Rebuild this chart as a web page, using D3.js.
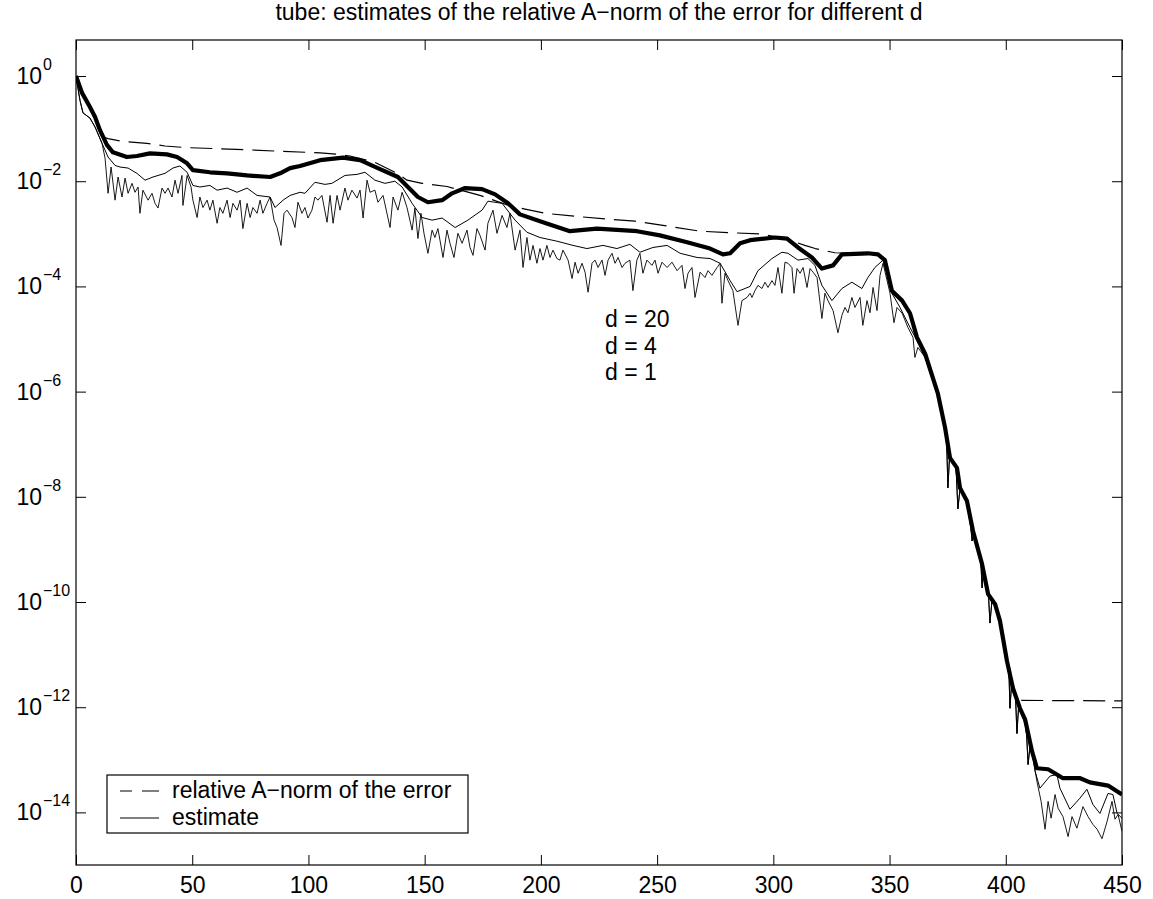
<!DOCTYPE html>
<html>
<head>
<meta charset="utf-8">
<script src="https://cdn.jsdelivr.net/npm/d3@7"></script>
<style>
  body { margin: 0; background: #fff; }
  svg { display: block; font-family: "Liberation Sans", Arial, Helvetica, sans-serif; }
</style>
</head>
<body>
<svg id="chart" width="1153" height="899"></svg>
<script>
// points are [iteration, log10(value)]
var errorPts = [[0,0],[2.6,-0.32],[6,-0.59],[8.2,-0.78],[10.3,-1.03],[11.6,-1.16],[13.8,-1.19],[19.8,-1.24],[30.5,-1.28],[38.3,-1.33],[46.9,-1.36],[59.8,-1.38],[72.7,-1.40],[87.8,-1.43],[105,-1.46],[113,-1.49],[117.9,-1.52],[128.6,-1.64],[138.1,-1.85],[142.4,-1.98],[148.9,-2.04],[159.6,-2.10],[173.8,-2.27],[187.6,-2.48],[193.2,-2.53],[201.8,-2.61],[215.5,-2.67],[228.4,-2.72],[240.5,-2.76],[252.5,-2.84],[268.5,-2.95],[281.4,-2.98],[294.3,-3.00],[305,-3.09],[313.6,-3.22],[318,-3.28],[326.5,-3.36],[333,-3.37],[340.7,-3.37],[345,-3.39],[348,-3.50],[351,-4.08],[355.4,-4.27],[358.8,-4.51],[361.8,-4.97],[365.3,-5.28],[370.8,-6.04],[373.9,-6.69],[376,-7.26],[379,-7.45],[380.3,-7.83],[383.3,-8.08],[385.9,-8.65],[389.8,-9.28],[392.4,-9.85],[395.4,-10.04],[397.5,-10.36],[400.5,-11.12],[402.5,-11.5],[404.5,-11.8],[406.5,-11.87],[450,-11.88]];

var estD20 = [[0,0],[2.6,-0.32],[6,-0.59],[8.2,-0.78],[10.3,-1.03],[13.3,-1.31],[15.9,-1.45],[21.9,-1.54],[26.2,-1.52],[31.8,-1.47],[39.1,-1.49],[43.5,-1.54],[47.8,-1.66],[50.3,-1.79],[57.6,-1.83],[65,-1.85],[73.6,-1.89],[83.5,-1.92],[87.8,-1.85],[92.1,-1.75],[96.4,-1.71],[105,-1.60],[114.9,-1.55],[122.2,-1.60],[130.8,-1.77],[138.5,-1.92],[142.8,-2.11],[147.1,-2.30],[151.4,-2.40],[157.5,-2.36],[161.8,-2.23],[167.4,-2.13],[174.7,-2.15],[180.3,-2.25],[185.9,-2.42],[191,-2.63],[200.9,-2.78],[212.5,-2.95],[224.1,-2.90],[241.4,-2.95],[251.2,-3.03],[262.9,-3.16],[272.8,-3.28],[278.3,-3.39],[281.4,-3.37],[285.7,-3.18],[290,-3.12],[300.7,-3.07],[305.9,-3.09],[310.6,-3.26],[316.6,-3.45],[320.9,-3.66],[325.7,-3.60],[329.5,-3.39],[340.7,-3.37],[345,-3.39],[348,-3.50],[351,-4.08],[355.4,-4.27],[358.8,-4.51],[361.8,-4.97],[365.3,-5.28],[370.8,-6.04],[373.9,-6.69],[376,-7.26],[379,-7.45],[380.3,-7.83],[383.3,-8.08],[385.9,-8.65],[389.8,-9.28],[392.4,-9.85],[395.4,-10.04],[397.5,-10.36],[400.5,-11.12],[403.1,-11.64],[406.1,-12.02],[408.3,-12.23],[411.3,-12.84],[413.4,-13.16],[418.2,-13.18],[422,-13.28],[424.6,-13.35],[432,-13.35],[436.2,-13.43],[444,-13.49],[450,-13.66]];

// first iterations, shared by d = 4 and d = 1
var thinStart = [[0,0],[1.7,-0.46],[3.0,-0.70],[6.0,-0.80],[8.2,-0.97],[11.2,-1.28]];

// steep drop, the thin curves lie on top of each other here
var thinDrop = [[365.3,-5.35],[368.3,-5.72],[370.8,-6.08],[373.9,-6.72],[374.6,-7.0],[375.1,-7.83],[375.8,-7.25],[378.6,-7.45],[379.4,-8.23],[380.3,-7.85],[383.3,-8.12],[385,-8.6],[385.5,-8.84],[386.2,-8.7],[389.3,-9.25],[389.8,-9.73],[390.5,-9.35],[392.6,-9.9],[393.2,-10.4],[394,-10.0],[395.4,-10.08],[397.5,-10.4],[400.5,-11.15],[401.4,-11.4],[401.8,-12.02],[402.5,-11.55],[404.2,-11.8],[404.8,-12.5],[405.5,-12.0],[408.3,-12.3],[409,-12.55],[409.6,-13.09],[410.5,-12.7],[411.5,-12.9]];

var estD4 = [[13.8,-1.54],[16.8,-1.70],[18.9,-1.73],[22.4,-1.75],[26.2,-1.85],[29.7,-1.98],[33.1,-1.92],[38.3,-1.85],[41.7,-1.75],[44.7,-1.71],[47.8,-1.83],[50.3,-2.08],[53.3,-2.11],[57.6,-2.08],[60.7,-2.17],[65,-2.13],[69.3,-2.21],[73.6,-2.13],[77.9,-2.27],[83.5,-2.30],[85.6,-2.50],[89.1,-2.36],[92.1,-2.27],[96.4,-2.21],[98.5,-2.23],[102.8,-2.02],[107.1,-2.06],[110.1,-2.04],[115.7,-1.89],[120.9,-1.87],[124.3,-1.83],[128.6,-1.98],[132.9,-2.04],[137.2,-2.00],[140.3,-2.11],[144.6,-2.42],[148.9,-2.69],[153.2,-2.74],[157.5,-2.70],[163.1,-2.88],[168.6,-2.74],[174.7,-2.55],[177.2,-2.38],[183.3,-2.42],[188.9,-2.74],[194,-2.97],[199.6,-3.07],[206.9,-3.14],[213.8,-3.22],[219.8,-3.28],[226.7,-3.22],[232.7,-3.28],[238.3,-3.20],[242.6,-3.35],[248.2,-3.26],[254.3,-3.22],[259.9,-3.37],[267.2,-3.45],[272.8,-3.47],[277.1,-3.56],[281.4,-3.89],[284.4,-4.10],[290,-4.00],[293.4,-3.70],[299.4,-3.47],[303.7,-3.35],[306.3,-3.37],[310.6,-3.50],[314.9,-3.47],[317.9,-3.60],[320.9,-3.98],[325.2,-4.27],[329.5,-4.04],[333.8,-3.92],[338.1,-4.04],[340.7,-3.83],[343.7,-3.64],[347.2,-3.50],[351,-4.13],[354.5,-4.40],[358.8,-4.78],[361.8,-5.03]];
var tailD4 = [[412.6,-13.22],[414.7,-13.54],[419,-13.31],[422,-13.28],[423.3,-13.54],[427.6,-13.94],[431.9,-13.73],[434.9,-13.56],[437.5,-13.85],[440.5,-14.02],[444,-13.64],[446.1,-13.66],[447.9,-14.02],[450,-14.11]];

var estD1 = [[12.5,-1.56],[13.8,-2.23],[15.1,-1.73],[16.8,-2.36],[18.1,-1.92],[19.8,-2.30],[21.1,-1.94],[22.4,-2.23],[24.1,-2.04],[25.4,-2.21],[26.7,-2.11],[27.5,-2.61],[28.8,-2.17],[31.0,-2.36],[32.7,-2.23],[34.0,-2.42],[35.3,-2.51],[37.0,-2.13],[38.3,-2.23],[39.6,-2.13],[41.3,-2.30],[42.6,-1.98],[43.9,-2.23],[45.6,-1.89],[46.0,-2.46],[47.8,-1.89],[49.5,-2.11],[50.3,-2.36],[52.1,-2.69],[53.3,-2.30],[54.6,-2.50],[56.4,-2.36],[57.6,-2.55],[58.9,-2.36],[60.7,-2.80],[61.9,-2.50],[63.2,-2.61],[65.0,-2.36],[66.3,-2.69],[67.5,-2.42],[69.3,-2.55],[70.6,-2.36],[71.8,-2.90],[73.6,-2.42],[74.9,-2.69],[76.1,-2.50],[77.9,-2.61],[79.2,-2.36],[80.4,-2.61],[82.2,-2.42],[83.5,-2.30],[85.2,-2.74],[86.5,-2.88],[88.2,-3.22],[89.5,-2.61],[90.8,-2.55],[92.9,-2.69],[94.2,-2.88],[95.5,-2.40],[97.2,-2.61],[98.5,-2.50],[99.8,-2.70],[101.5,-2.55],[102.8,-2.30],[104.1,-2.36],[105.8,-2.27],[108.0,-2.78],[109.3,-2.27],[110.6,-2.80],[112.3,-2.27],[113.6,-2.55],[115.7,-2.13],[117.0,-2.36],[118.7,-2.17],[120.9,-2.32],[122.2,-2.17],[123.5,-2.70],[125.2,-1.98],[126.5,-2.21],[128.6,-2.17],[129.9,-2.40],[132.1,-2.27],[135.1,-2.88],[136.4,-2.30],[138.5,-2.55],[140.3,-2.21],[142.4,-2.50],[144.6,-2.93],[145.8,-2.51],[147.1,-3.09],[148.4,-2.61],[149.7,-2.99],[151.4,-3.37],[153.2,-2.93],[154.4,-3.07],[155.7,-2.90],[157.9,-3.45],[159.6,-2.93],[160.9,-3.18],[162.6,-3.45],[164.3,-2.99],[166.1,-3.18],[168.2,-2.93],[169.5,-3.26],[170.8,-3.41],[172.5,-2.90],[173.8,-3.03],[176.0,-3.31],[177.2,-2.80],[179.4,-2.55],[181.1,-2.99],[183.3,-2.65],[185.4,-2.88],[186.7,-2.61],[188.9,-3.31],[191.0,-2.93],[192.3,-3.64],[194.0,-3.07],[195.3,-3.50],[196.6,-3.22],[198.3,-3.56],[199.6,-3.28],[200.9,-3.50],[202.6,-3.22],[203.9,-3.45],[205.2,-3.31],[206.9,-3.47],[208.2,-3.50],[209.5,-3.31],[211.7,-3.50],[213.4,-3.85],[214.7,-3.54],[216.0,-3.75],[217.7,-3.56],[219.0,-3.73],[220.3,-4.11],[222.0,-3.56],[223.3,-3.50],[224.6,-3.64],[226.3,-3.50],[227.6,-3.79],[228.9,-3.50],[230.6,-3.37],[231.9,-3.56],[233.2,-3.45],[234.9,-3.64],[236.2,-3.56],[238.3,-3.50],[239.6,-4.08],[241.3,-3.50],[242.6,-3.37],[243.9,-3.75],[245.6,-3.50],[247.8,-3.60],[249.1,-3.50],[250.4,-3.75],[252.1,-3.54],[254.3,-3.64],[256.4,-3.54],[258.6,-3.70],[260.7,-3.60],[262.0,-4.04],[263.3,-3.75],[265.0,-3.64],[266.3,-4.21],[268.5,-3.73],[270.6,-3.83],[271.9,-3.70],[273.6,-3.79],[275.8,-3.64],[277.1,-3.56],[277.9,-4.32],[279.2,-3.75],[280.5,-3.89],[282.6,-4.08],[284.8,-4.74],[286.5,-4.27],[288.7,-4.21],[290.0,-4.13],[290.8,-4.21],[292.1,-4.08],[293.4,-3.98],[295.1,-4.04],[296.4,-3.92],[297.7,-4.02],[299.4,-3.89],[300.7,-3.98],[302.0,-3.64],[303.7,-4.13],[305.0,-3.54],[306.3,-3.56],[308.0,-3.64],[308.9,-4.13],[310.2,-3.66],[311.5,-3.75],[312.8,-3.64],[314.5,-4.02],[315.8,-3.66],[317.1,-3.73],[318.8,-3.83],[320.9,-4.61],[322.2,-4.13],[323.5,-4.27],[325.7,-4.46],[327.8,-4.88],[329.5,-4.55],[330.8,-4.40],[332.1,-4.50],[333.8,-4.21],[335.1,-4.40],[337.3,-4.21],[338.5,-4.74],[340.3,-4.27],[341.6,-4.50],[342.9,-4.02],[344.6,-4.46],[345.9,-3.79],[347.2,-3.56],[350.2,-4.13],[351.9,-4.69],[353.2,-4.40],[355.4,-4.51],[357.9,-4.78],[360.1,-4.97],[360.9,-5.35],[362.2,-5.16]];
var tailD1 = [[413.4,-13.41],[415.2,-13.79],[416.9,-14.32],[418.2,-13.79],[419.5,-14.11],[421.2,-13.66],[422.5,-13.92],[424.6,-14.08],[426.8,-14.46],[428.5,-14.08],[430.6,-14.30],[433.2,-13.89],[435.4,-14.08],[437.5,-14.23],[439.3,-14.32],[441.4,-14.50],[443.6,-14.17],[445.7,-13.79],[447,-14.13],[448.3,-14.04],[450,-14.36]];

var xTicks = [0, 50, 100, 150, 200, 250, 300, 350, 400, 450];
var yTickExps = [0, -2, -4, -6, -8, -10, -12, -14];
var dLabels = ["d = 20", "d = 4", "d = 1"];
var legendLabels = ["relative A\u2212norm of the error", "estimate"];
var titleText = "tube: estimates of the relative A\u2212norm of the error for different d";

// plot box in pixels (window.top is reserved, hence the prefix)
var pLeft = 76, pRight = 1122, pTop = 40, pBottom = 865;
var fs = 23;

var svg = d3.select("#chart");

var x = d3.scaleLinear().domain([0, 450]).range([pLeft, pRight]);
var y = d3.scaleLog().domain([1e-15, Math.pow(10, 0.685)]).range([pBottom, pTop]);

var line = d3.line()
  .x(function(d) { return x(d[0]); })
  .y(function(d) { return y(Math.pow(10, d[1])); });

svg.append("defs").append("clipPath").attr("id", "plotclip")
  .append("rect")
  .attr("x", pLeft).attr("y", pTop)
  .attr("width", pRight - pLeft).attr("height", pBottom - pTop);

var plot = svg.append("g").attr("clip-path", "url(#plotclip)");

var series = [
  { pts: thinStart.concat(estD1, thinDrop, tailD1), w: 0.9, dash: null },
  { pts: thinStart.concat(estD4, thinDrop, tailD4), w: 1, dash: null },
  { pts: errorPts, w: 1.2, dash: "22,9" },
  { pts: estD20, w: 4.2, dash: null }
];

plot.selectAll("path.series")
  .data(series)
  .enter().append("path")
  .attr("class", "series")
  .attr("d", function(d) { return line(d.pts); })
  .attr("fill", "none")
  .attr("stroke", "#000")
  .attr("stroke-width", function(d) { return d.w; })
  .attr("stroke-linejoin", "round")
  .attr("stroke-dasharray", function(d) { return d.dash; });

// axes, ticks pointing inward on all four sides
var yTicks = yTickExps.map(function(e) { return Math.pow(10, e); });

svg.append("g")
  .attr("transform", "translate(0," + pBottom + ")")
  .call(d3.axisBottom(x).tickValues(xTicks).tickSizeInner(-10).tickSizeOuter(0).tickPadding(12))
  .call(function(g) {
    g.select(".domain").remove();
    g.selectAll("text")
      .attr("font-size", fs)
      .attr("font-family", "Liberation Sans, Arial, sans-serif")
      .attr("fill", "#000");
  });

svg.append("g")
  .attr("transform", "translate(0," + pTop + ")")
  .call(d3.axisTop(x).tickValues(xTicks).tickSizeInner(-10).tickSizeOuter(0).tickFormat(""))
  .call(function(g) { g.select(".domain").remove(); });

svg.append("g")
  .attr("transform", "translate(" + pLeft + ",0)")
  .call(d3.axisLeft(y).tickValues(yTicks).tickSizeInner(-10).tickSizeOuter(0).tickFormat(""))
  .call(function(g) { g.select(".domain").remove(); });

svg.append("g")
  .attr("transform", "translate(" + pRight + ",0)")
  .call(d3.axisRight(y).tickValues(yTicks).tickSizeInner(-10).tickSizeOuter(0).tickFormat(""))
  .call(function(g) { g.select(".domain").remove(); });

svg.selectAll(".tick line").attr("stroke", "#000");

// y labels as 10 with a raised exponent
var ylab = svg.append("g").selectAll("g")
  .data(yTickExps)
  .enter().append("g");
ylab.append("text")
  .attr("x", 42)
  .attr("y", function(e) { return y(Math.pow(10, e)) + 8; })
  .attr("text-anchor", "end")
  .attr("font-size", fs)
  .text("10");
ylab.append("text")
  .attr("x", 43)
  .attr("y", function(e) { return y(Math.pow(10, e)) - 6; })
  .attr("font-size", 16)
  .text(function(e) { return e === 0 ? "0" : "\u2212" + (-e); });

svg.append("rect")
  .attr("x", pLeft).attr("y", pTop)
  .attr("width", pRight - pLeft).attr("height", pBottom - pTop)
  .attr("fill", "none").attr("stroke", "#000").attr("stroke-width", 1.2);

svg.append("text")
  .attr("x", (pLeft + pRight) / 2)
  .attr("y", 20)
  .attr("text-anchor", "middle")
  .attr("font-size", fs)
  .text(titleText);

svg.append("g").selectAll("text")
  .data(dLabels)
  .enter().append("text")
  .attr("x", 605)
  .attr("y", function(d, i) { return 327 + i * 26.5; })
  .attr("font-size", fs)
  .text(function(d) { return d; });

// legend
var leg = svg.append("g");
leg.append("rect")
  .attr("x", 107).attr("y", 775)
  .attr("width", 361).attr("height", 58)
  .attr("fill", "#fff").attr("stroke", "#000").attr("stroke-width", 1.2);
leg.append("line")
  .attr("x1", 120).attr("x2", 159).attr("y1", 791).attr("y2", 791)
  .attr("stroke", "#000").attr("stroke-width", 1.2).attr("stroke-dasharray", "12,10,17");
leg.append("line")
  .attr("x1", 120).attr("x2", 159).attr("y1", 818).attr("y2", 818)
  .attr("stroke", "#000").attr("stroke-width", 1);
leg.selectAll("text.lg")
  .data(legendLabels)
  .enter().append("text")
  .attr("class", "lg")
  .attr("x", 172)
  .attr("y", function(d, i) { return 798 + i * 27; })
  .attr("font-size", fs)
  .text(function(d) { return d; });
</script>
</body>
</html>
